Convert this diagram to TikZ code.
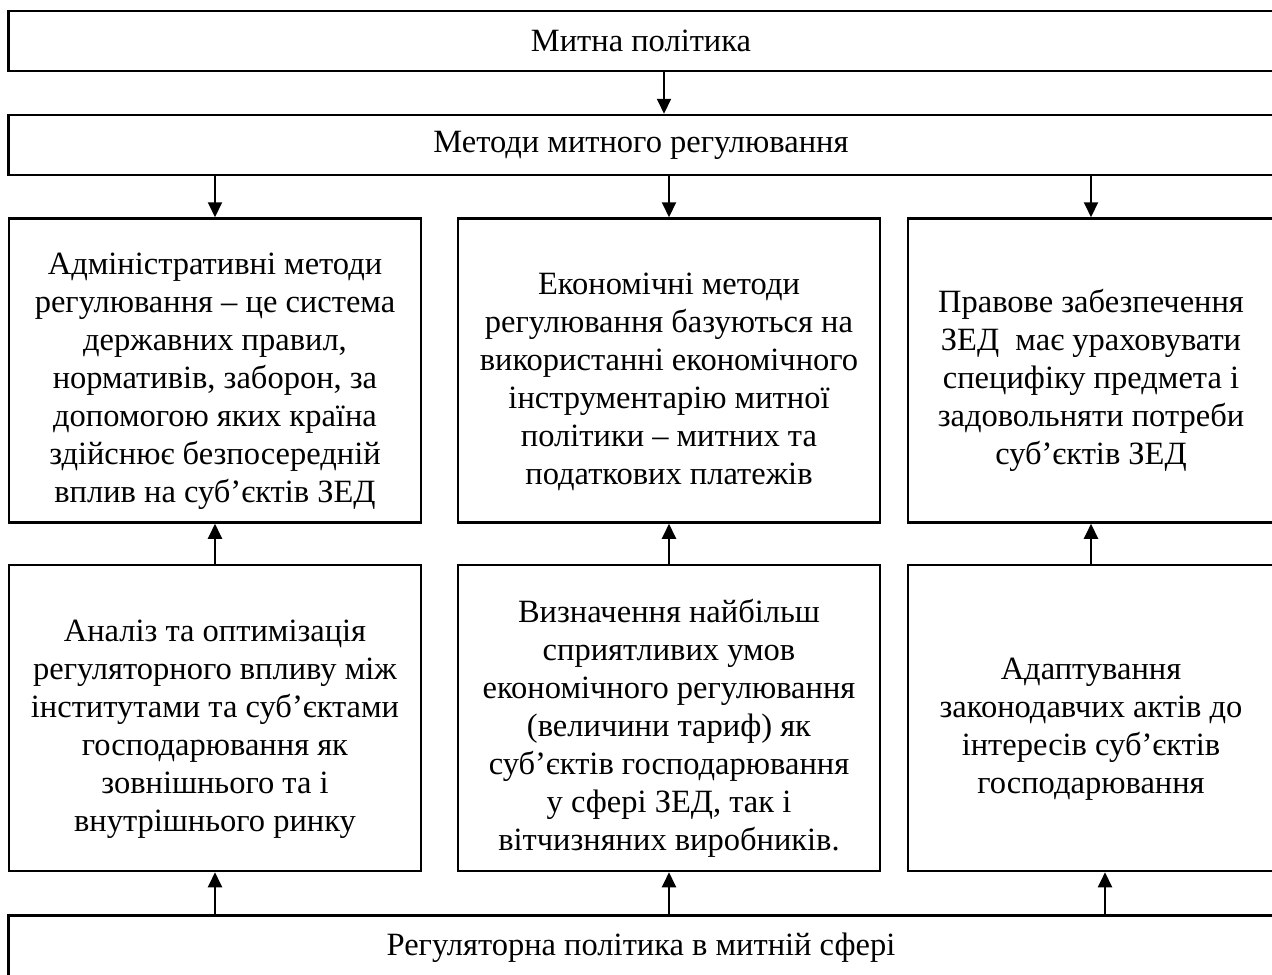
\documentclass[tikz,border=0pt]{standalone}
\usepackage{fontspec}
\setmainfont{Liberation Serif}
\usetikzlibrary{positioning, arrows.meta}

\newcommand{\topgap}{\rule{0pt}{17.5pt}}

\tikzset{
    box/.style={draw, line width=1pt, align=center, inner sep=0pt,
                font=\fontsize{13}{15.2}\selectfont},
    widebox/.style={box, minimum width=506pt, minimum height=24pt},
    tallbox/.style={box, minimum height=121.6pt},
    arr/.style={line width=0.8pt, -{Triangle[length=6pt, width=5.6pt]}}
}

\begin{document}
\begin{tikzpicture}[x=0.4pt, y=-0.4pt]
    \useasboundingbox (0,0) rectangle (1272,974);
    % upper part
    \node[widebox] (politika) at (641,41) {Митна політика};
    \node[widebox] (metody) at (641,145) {Методи митного регулювання};
    \node[tallbox, minimum width=164.8pt] (admin) at (215,370.5)
        {\topgap Адміністративні методи\\ регулювання – це система\\ державних правил,\\
         нормативів, заборон, за\\ допомогою яких країна\\ здійснює безпосередній\\
         вплив на суб’єктів ЗЕД};
    \node[tallbox, minimum width=168.8pt] (ekon) at (669,370.5)
        {\topgap Економічні методи\\ регулювання базуються на\\ використанні економічного\\
         інструментарію митної\\ політики – митних та\\ податкових платежів};
    \node[tallbox, minimum width=146.4pt] (pravo) at (1091,370.5)
        {\topgap Правове забезпечення\\ ЗЕД\ \ має ураховувати\\ специфіку предмета і\\
         задовольняти потреби\\ суб’єктів ЗЕД};
    % lower part
    \node[tallbox, minimum width=164.8pt, minimum height=122.4pt] (analiz) at (215,718)
        {\topgap Аналіз та оптимізація\\ регуляторного впливу між\\ інститутами та суб’єктами\\
         господарювання як\\ зовнішнього та і\\ внутрішнього ринку};
    \node[tallbox, minimum width=168.8pt, minimum height=122.4pt] (vyznach) at (669,718)
        {\topgap Визначення найбільш\\ сприятливих умов\\ економічного регулювання\\
         (величини тариф) як\\ суб’єктів господарювання\\ у сфері ЗЕД, так і\\
         вітчизняних виробників.};
    \node[tallbox, minimum width=146.4pt, minimum height=122.4pt] (adapt) at (1091,718)
        {\topgap Адаптування\\ законодавчих актів до\\ інтересів суб’єктів\\ господарювання};
    \node[widebox, minimum height=26pt, anchor=north] (rehul) at (641,914)
        {Регуляторна політика в митній сфері};

    \draw[arr] ([xshift=9.2pt]politika.south) -- ([xshift=9.2pt]metody.north);
    \foreach \b in {admin, ekon, pravo}
        \draw[arr] (metody.south -| \b.north) -- (\b.north);
    \foreach \a/\b in {analiz/admin, vyznach/ekon, adapt/pravo}
        \draw[arr] (\a.north) -- (\a.north |- \b.south);
    \draw[arr] (rehul.north -| analiz.south) -- (analiz.south);
    \draw[arr] (rehul.north -| vyznach.south) -- (vyznach.south);
    \draw[arr] ([xshift=5.6pt]rehul.north -| adapt.south) -- ([xshift=5.6pt]adapt.south);
\end{tikzpicture}
\end{document}
